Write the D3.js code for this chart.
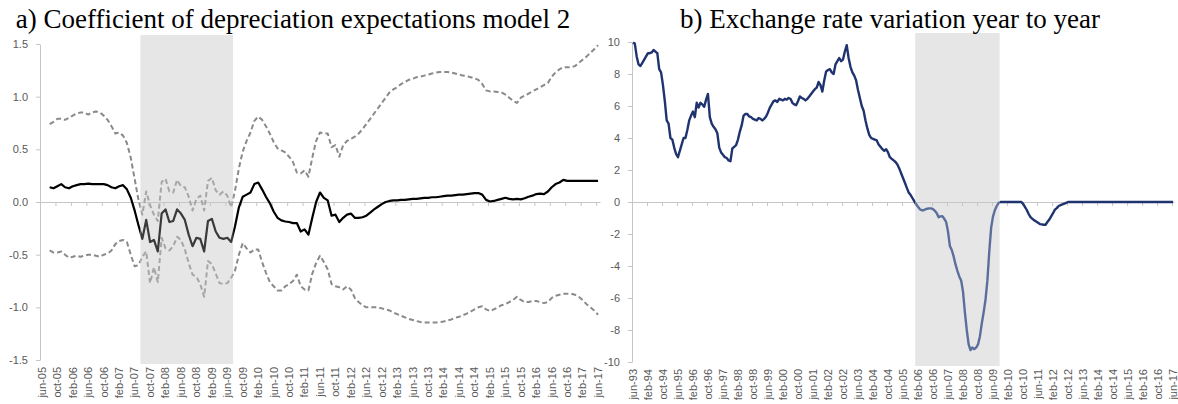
<!DOCTYPE html>
<html>
<head>
<meta charset="utf-8">
<script src="https://cdn.jsdelivr.net/npm/d3@7"></script>
<style>
  html, body { margin: 0; padding: 0; background: #fff; }
  svg { display: block; }
</style>
</head>
<body>
<svg id="chart" width="1178" height="404"></svg>
<script>
// ---------------- DATA ----------------
// Panel a: monthly categories jun-05 .. jun-17 (145 months); series start aug-05
const leftTitle = "a) Coefficient of depreciation expectations model 2";
const leftStartMonth = "2005-06";
const leftMonths = 145;
const leftSeriesStart = 2; // aug-05
const leftXTickLabels = ["jun-05","oct-05","feb-06","jun-06","oct-06","feb-07","jun-07","oct-07","feb-08","jun-08","oct-08","feb-09","jun-09","oct-09","feb-10","jun-10","oct-10","feb-11","jun-11","oct-11","feb-12","jun-12","oct-12","feb-13","jun-13","oct-13","feb-14","jun-14","oct-14","feb-15","jun-15","oct-15","feb-16","jun-16","oct-16","feb-17","jun-17"];
const leftYTicks = [-1.5, -1.0, -0.5, 0.0, 0.5, 1.0, 1.5];
const leftShade = ["aug-07", "jul-09"];

const coefficient = [
  0.14, 0.13, 0.15, 0.17, 0.14, 0.13, 0.15, 0.16, 0.17, 0.17,
  0.175, 0.17, 0.17, 0.17, 0.17, 0.16, 0.14, 0.13, 0.15, 0.16,
  0.12, 0.04, -0.08, -0.22, -0.35, -0.17, -0.38, -0.36, -0.47, -0.11,
  -0.07, -0.19, -0.18, -0.07, -0.11, -0.17, -0.31, -0.42, -0.34, -0.35,
  -0.47, -0.18, -0.16, -0.28, -0.34, -0.35, -0.34, -0.38, -0.23, -0.05,
  0.05, 0.07, 0.09, 0.17, 0.185, 0.12, 0.05, -0.01, -0.09, -0.15,
  -0.175, -0.185, -0.19, -0.2, -0.2, -0.28, -0.26, -0.31, -0.15, 0.0,
  0.09, 0.04, 0.015, -0.13, -0.12, -0.19, -0.15, -0.12, -0.11, -0.15,
  -0.15, -0.145, -0.13, -0.1, -0.07, -0.045, -0.02, 0.0, 0.01, 0.015,
  0.015, 0.02, 0.02, 0.025, 0.03, 0.03, 0.035, 0.04, 0.04, 0.045,
  0.045, 0.05, 0.055, 0.06, 0.06, 0.065, 0.07, 0.07, 0.075, 0.08,
  0.085, 0.085, 0.07, 0.02, 0.005, 0.01, 0.02, 0.03, 0.04, 0.03,
  0.025, 0.03, 0.025, 0.035, 0.05, 0.06, 0.075, 0.08, 0.075, 0.1,
  0.14, 0.17, 0.185, 0.21, 0.2, 0.2, 0.2, 0.2, 0.2, 0.2,
  0.2, 0.2, 0.2
];
const upperBand = [
  0.74, 0.76, 0.79, 0.79, 0.78, 0.8, 0.82, 0.84, 0.85, 0.85,
  0.83, 0.85, 0.86, 0.85, 0.82, 0.78, 0.72, 0.65, 0.66, 0.63,
  0.56, 0.42, 0.22, 0.02, -0.12, 0.1, -0.03, -0.12, -0.18, 0.19,
  0.22, 0.1, 0.09, 0.21, 0.15, 0.14, 0.05, -0.08, 0.03, 0.06,
  -0.08, 0.2, 0.23, 0.11, 0.07, 0.1, 0.06, -0.05, 0.11, 0.32,
  0.48, 0.58, 0.66, 0.77, 0.81, 0.78, 0.72, 0.65, 0.57, 0.51,
  0.49, 0.47, 0.43, 0.38, 0.28, 0.27, 0.3, 0.24, 0.42, 0.58,
  0.66, 0.65, 0.65, 0.52, 0.54, 0.43, 0.54, 0.58, 0.6, 0.62,
  0.65, 0.69, 0.74, 0.79, 0.84, 0.89, 0.94, 0.99, 1.04, 1.07,
  1.09, 1.12, 1.14, 1.16, 1.17, 1.185, 1.19, 1.2, 1.21, 1.22,
  1.23, 1.235, 1.235, 1.235, 1.23, 1.22, 1.21, 1.2, 1.195, 1.185,
  1.175, 1.16, 1.12, 1.06, 1.05, 1.05, 1.045, 1.04, 1.02, 0.99,
  0.96, 0.94, 0.99, 1.01, 1.03, 1.05, 1.07, 1.09, 1.11, 1.13,
  1.19, 1.23, 1.26, 1.28, 1.28, 1.28, 1.29, 1.32, 1.35, 1.38,
  1.415, 1.45, 1.49
];
const lowerBand = [
  -0.46, -0.48, -0.48, -0.47, -0.5, -0.53, -0.52, -0.51, -0.52, -0.51,
  -0.5, -0.5, -0.51, -0.52, -0.5, -0.49, -0.46, -0.4, -0.37, -0.36,
  -0.38, -0.5, -0.61, -0.6, -0.52, -0.47, -0.77, -0.62, -0.76, -0.34,
  -0.44, -0.46, -0.42, -0.33, -0.36, -0.45, -0.58, -0.69, -0.71, -0.78,
  -0.9, -0.56, -0.59, -0.68, -0.77, -0.78, -0.77, -0.72, -0.65, -0.5,
  -0.39, -0.44, -0.48, -0.45, -0.45, -0.57, -0.67, -0.76, -0.8, -0.84,
  -0.84, -0.8, -0.78, -0.75, -0.69, -0.8, -0.83, -0.84, -0.68, -0.58,
  -0.51, -0.57, -0.64, -0.78, -0.8, -0.81, -0.83, -0.8, -0.83, -0.91,
  -0.95, -0.98, -1.0, -1.0, -1.0, -1.0, -1.01, -1.02, -1.03, -1.05,
  -1.065, -1.08, -1.095, -1.11, -1.12, -1.13, -1.14, -1.145, -1.145, -1.145,
  -1.145, -1.14, -1.135, -1.125, -1.115, -1.1, -1.09, -1.075, -1.06, -1.04,
  -1.02, -1.0, -0.99, -1.02, -1.035, -1.02, -1.0, -0.98, -0.97, -0.95,
  -0.93, -0.9, -0.93, -0.95, -0.95, -0.94, -0.94, -0.95, -0.96, -0.95,
  -0.91, -0.89, -0.88, -0.87, -0.87, -0.87, -0.88, -0.9, -0.93, -0.97,
  -1.0, -1.03, -1.07
];

// Panel b: monthly categories jun-93 .. jun-17 (289 months)
const rightTitle = "b) Exchange rate variation year to year";
const rightStartMonth = "1993-06";
const rightMonths = 289;
const rightXTickLabels = ["jun-93","feb-94","oct-94","jun-95","feb-96","oct-96","jun-97","feb-98","oct-98","jun-99","feb-00","oct-00","jun-01","feb-02","oct-02","jun-03","feb-04","oct-04","jun-05","feb-06","oct-06","jun-07","feb-08","oct-08","jun-09","feb-10","oct-10","jun-11","feb-12","oct-12","jun-13","feb-14","oct-14","jun-15","feb-16","oct-16","jun-17"];
const rightYTicks = [-10, -8, -6, -4, -2, 0, 2, 4, 6, 8, 10];
const rightShade = ["jan-06", "sep-09"];
const exchangeRate = [
  9.96, 9.9, 9.1, 8.6, 8.5, 8.7, 8.9, 9.1, 9.3, 9.3,
  9.35, 9.5, 9.4, 9.3, 8.3, 8.1, 7.3, 6.3, 5.1, 4.9,
  4.0, 3.9, 3.4, 3.0, 2.8, 3.2, 3.6, 4.0, 4.0, 4.5,
  5.1, 5.4, 5.65, 5.3, 6.2, 5.9, 6.2, 6.1, 5.95, 6.4,
  6.75, 5.3, 4.9, 4.7, 4.55, 4.3, 3.4, 3.1, 2.95, 2.8,
  2.75, 2.6, 2.55, 3.35, 3.45, 3.55, 3.9, 4.4, 4.8, 5.4,
  5.5, 5.5, 5.35, 5.3, 5.2, 5.15, 5.1, 5.25, 5.2, 5.1,
  5.2, 5.35, 5.6, 5.9, 6.1, 6.3, 6.35, 6.25, 6.45, 6.4,
  6.35, 6.45, 6.4, 6.5, 6.45, 6.2, 6.1, 6.05, 6.3, 6.6,
  6.5, 6.45, 6.35, 6.45, 6.6, 6.75, 6.9, 7.05, 7.15, 7.5,
  7.3, 6.9, 7.6, 8.15, 8.25, 8.3, 8.1, 8.0, 8.6, 8.8,
  9.0, 8.8, 8.9, 9.4, 9.8, 9.0, 8.45, 8.1, 7.9, 7.6,
  7.0, 6.5, 6.0, 5.7, 5.1, 4.6, 4.2, 4.0, 3.95, 3.9,
  3.85, 3.6, 3.45, 3.3, 3.2, 3.3, 3.1, 2.8, 2.7, 2.6,
  2.5, 2.35, 2.1, 1.8, 1.5, 1.2, 0.9, 0.6, 0.45, 0.25,
  0.05, -0.15, -0.3, -0.45, -0.52, -0.52, -0.45, -0.42, -0.4, -0.4,
  -0.45, -0.55, -0.7, -0.95, -0.9, -0.88, -1.05, -1.25, -1.85, -2.75,
  -3.0, -3.4, -3.9, -4.3, -4.65, -4.9, -5.6, -6.9, -8.0, -8.9,
  -9.25, -9.1, -9.2, -9.1, -8.9, -8.4, -7.6, -6.9, -6.1, -4.9,
  -3.1, -1.6, -0.9, -0.5, -0.25, -0.05, 0, 0, 0, 0,
  0, 0, 0, 0, 0, 0, 0, 0, -0.1, -0.3,
  -0.5, -0.75, -0.95, -1.05, -1.15, -1.22, -1.3, -1.38, -1.4, -1.42,
  -1.42, -1.25, -1.1, -0.9, -0.7, -0.48, -0.38, -0.25, -0.2, -0.15,
  -0.1, -0.05, 0, 0, 0, 0, 0, 0, 0, 0,
  0, 0, 0, 0, 0, 0, 0, 0, 0, 0,
  0, 0, 0, 0, 0, 0, 0, 0, 0, 0,
  0, 0, 0, 0, 0, 0, 0, 0, 0, 0,
  0, 0, 0, 0, 0, 0, 0, 0, 0, 0,
  0, 0, 0, 0, 0, 0, 0, 0, 0
];

// ---------------- DRAWING ----------------
const svg = d3.select("#chart");
const defs = svg.append("defs");
const fmtMonth = d3.timeFormat("%b-%y");
function monthLabels(start, n) {
  const s = d3.timeParse("%Y-%m")(start);
  return d3.range(n).map(i => fmtMonth(d3.timeMonth.offset(s, i)).toLowerCase());
}
const tickFont = "'Liberation Sans', Arial, sans-serif";
const axisColor = "#c6c6c6";
const labelColor = "#595959";

function panel(cfg) {
  const cats = monthLabels(cfg.start, cfg.n);
  const x = d3.scaleLinear().domain([0, cfg.n]).range(cfg.xRange);
  const y = d3.scaleLinear().domain(cfg.yDomain).range(cfg.yRange);
  const g = svg.append("g");
  const sx0 = x(cats.indexOf(cfg.shade[0]));
  const sx1 = x(cats.indexOf(cfg.shade[1]) + 1);
  const sTop = cfg.yRange[1] - 9, sBot = cfg.yRange[0] + 4;

  // shading
  g.append("rect").attr("x", sx0).attr("y", sTop).attr("width", sx1 - sx0)
    .attr("height", sBot - sTop).attr("fill", "#e6e6e6");

  // clip paths
  const idIn = cfg.id + "-in", idOut = cfg.id + "-out";
  defs.append("clipPath").attr("id", idIn).append("rect")
    .attr("x", sx0).attr("y", 0).attr("width", sx1 - sx0).attr("height", 404);
  const co = defs.append("clipPath").attr("id", idOut);
  co.append("rect").attr("x", 0).attr("y", 0).attr("width", sx0).attr("height", 404);
  co.append("rect").attr("x", sx1).attr("y", 0).attr("width", 1178 - sx1).attr("height", 404);

  // y axis
  const ya = g.append("g").attr("transform", `translate(${cfg.xRange[0]},0)`)
    .call(d3.axisLeft(y).tickValues(cfg.yTicks).tickSize(4).tickSizeOuter(0)
      .tickPadding(8).tickFormat(cfg.yFmt));
  ya.select(".domain").attr("stroke", axisColor);
  ya.selectAll(".tick line").attr("stroke", axisColor);
  ya.selectAll("text").attr("fill", labelColor).style("font-family", tickFont).style("font-size", "11px");

  // x axis at zero
  const step = cfg.labelStep;
  const bounds = d3.range(0, cfg.n + 1, step);
  const xa = g.append("g").attr("transform", `translate(0,${y(0)})`)
    .call(d3.axisBottom(x).tickValues(bounds.slice(1)).tickSize(4).tickSizeOuter(0).tickFormat(""));
  xa.select(".domain").attr("stroke", axisColor);
  xa.selectAll(".tick line").attr("stroke", axisColor);

  // x labels
  const lab = g.append("g");
  cfg.xLabels.forEach((t, k) => {
    const xi = x(k * step + 0.5);
    lab.append("text")
      .attr("transform", `translate(${xi},${cfg.yRange[0] + 7}) rotate(-90)`)
      .attr("text-anchor", "end").attr("dy", "0.35em")
      .attr("fill", labelColor).style("font-family", tickFont).style("font-size", "11px")
      .text(t);
  });

  // series
  cfg.series.forEach(s => {
    const line = d3.line().x((d, i) => x(s.start + i + 0.5)).y(d => y(d)).curve(d3.curveLinear);
    g.append("path").datum(s.values).attr("d", line).attr("fill", "none")
      .attr("stroke", s.color).attr("stroke-width", s.width)
      .attr("stroke-dasharray", s.dash || null).attr("stroke-linejoin", "round")
      .attr("clip-path", `url(#${idOut})`);
    g.append("path").datum(s.values).attr("d", line).attr("fill", "none")
      .attr("stroke", s.colorIn).attr("stroke-width", s.width)
      .attr("stroke-dasharray", s.dash || null).attr("stroke-linejoin", "round")
      .attr("clip-path", `url(#${idIn})`);
  });

  // title
  svg.append("text").attr("x", cfg.titleX).attr("y", 28).attr("text-anchor", "middle")
    .style("font-family", "'Liberation Serif', 'Times New Roman', serif")
    .style("font-size", "27px").attr("fill", "#000").text(cfg.title);
}

panel({
  id: "pa", start: leftStartMonth, n: leftMonths,
  xRange: [40, 600], yDomain: [-1.5, 1.5], yRange: [360, 44],
  yTicks: leftYTicks, yFmt: d => d.toFixed(1), labelStep: 4, xLabels: leftXTickLabels,
  shade: leftShade, title: leftTitle, titleX: 293,
  series: [
    { start: leftSeriesStart, values: upperBand, color: "#8a8a8a", colorIn: "#a6a6a6", width: 2, dash: "5,3" },
    { start: leftSeriesStart, values: lowerBand, color: "#8a8a8a", colorIn: "#a6a6a6", width: 2, dash: "5,3" },
    { start: leftSeriesStart, values: coefficient, color: "#000000", colorIn: "#3a3a3a", width: 2.2 }
  ]
});

panel({
  id: "pb", start: rightStartMonth, n: rightMonths,
  xRange: [632, 1174], yDomain: [-10, 10], yRange: [362, 42],
  yTicks: rightYTicks, yFmt: d => String(d), labelStep: 8, xLabels: rightXTickLabels,
  shade: rightShade, title: rightTitle, titleX: 890,
  series: [
    { start: 0, values: exchangeRate, color: "#1f336f", colorIn: "#5b6e9c", width: 2.4 }
  ]
});
</script>
</body>
</html>
